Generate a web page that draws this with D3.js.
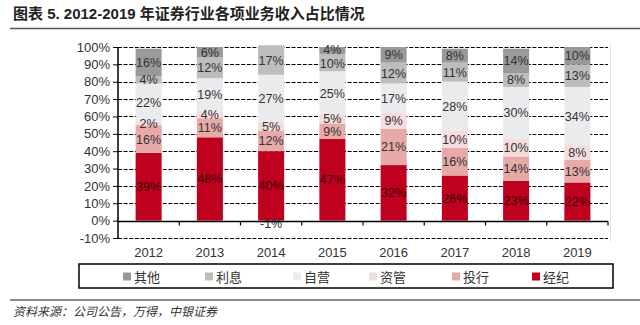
<!DOCTYPE html>
<html><head><meta charset="utf-8">
<script src="https://cdn.jsdelivr.net/npm/d3@7"></script>
<style>
html,body{margin:0;padding:0;background:#fff;}
svg{display:block;}
</style></head>
<body>
<svg id="c" width="640" height="325"></svg>
<script>
const years = ["2012","2013","2014","2015","2016","2017","2018","2019"];
const seriesNames = ["经纪","投行","资管","自营","利息","其他"]; // bottom to top
const brokerage = [39,48,40,47,32,26,23,22];
const investBank = [16,11,12,9,21,16,14,13];
const assetMgmt = [2,4,5,5,9,10,10,8];
const proprietary = [22,19,27,25,17,28,30,34];
const interest = [4,12,17,10,12,11,8,13];
const other = [16,6,-1,4,9,8,14,10];
const yTicks = [-10,0,10,20,30,40,50,60,70,80,90,100];
const colors = {"经纪":"#c0001f","投行":"#e8a9a9","资管":"#f6dddd","自营":"#ebebee","利息":"#bdbdbd","其他":"#999999"};
const legendOrder = ["其他","利息","自营","资管","投行","经纪"];

const seriesVals = {"经纪":brokerage,"投行":investBank,"资管":assetMgmt,"自营":proprietary,"利息":interest,"其他":other};
const table = years.map((y,i)=>{const o={year:y}; seriesNames.forEach(k=>o[k]=seriesVals[k][i]); return o;});

const svg = d3.select("#c");
const latin = "'Liberation Sans', Arial, 'Noto Sans CJK SC', sans-serif";
const cjk = "'Noto Sans CJK SC', sans-serif";

// title
svg.append("text").attr("x",13).attr("y",19).attr("font-family",latin).attr("font-weight","bold")
  .attr("font-size",15).attr("fill","#222").text("图表 5. 2012-2019 年证券行业各项业务收入占比情况");
svg.append("line").attr("x1",10).attr("x2",640).attr("y1",28.5).attr("y2",28.5).attr("stroke","#555").attr("stroke-width",1.5);

const x = d3.scaleBand().domain(years).range([118,608]).paddingInner(0.575).paddingOuter(0.2875);
const y = d3.scaleLinear().domain([-10,100]).range([238,47]);

// faint plot frame
svg.append("line").attr("x1",610.5).attr("x2",610.5).attr("y1",42).attr("y2",242).attr("stroke","#e6e6e6");

// gridlines
svg.append("g").selectAll("line").data(yTicks.filter(t=>t!==0)).join("line")
  .attr("x1",118).attr("x2",608).attr("y1",d=>Math.round(y(d))+0.5).attr("y2",d=>Math.round(y(d))+0.5)
  .attr("stroke","#000").attr("stroke-width",1.2).attr("stroke-dasharray","4,1.6");

// bars
const stack = d3.stack().keys(seriesNames).offset(d3.stackOffsetDiverging);
const layers = stack(table);
const gBars = svg.append("g");
layers.forEach(layer=>{
  gBars.selectAll(null).data(layer).join("rect")
    .attr("x",d=>x(d.data.year)).attr("width",x.bandwidth())
    .attr("y",d=>y(Math.max(d[0],d[1]))).attr("height",d=>Math.abs(y(d[0])-y(d[1])))
    .attr("fill",colors[layer.key]);
});

// labels with simple de-overlap per bar
const labels = [];
years.forEach((yr,i)=>{
  const col = layers.map(layer=>({key:layer.key, v:layer[i].data[layer.key],
    cy:y((layer[i][0]+layer[i][1])/2), neg: layer[i].data[layer.key] < 0}));
  const pos = col.filter(c=>!c.neg).sort((a,b)=>b.cy-a.cy); // bottom to top
  const gap = 13.5;
  // push upward-adjacent labels apart symmetrically
  for (let iter=0; iter<20; iter++){
    for (let j=1;j<pos.length;j++){
      const d = pos[j-1].cy - pos[j].cy;
      if (d < gap){ const s=(gap-d)/2; pos[j-1].cy += s; pos[j].cy -= s; }
    }
  }
  col.forEach(c=>labels.push({year:yr, key:c.key, v:c.v, cy:c.neg ? c.cy+2 : c.cy}));
});
svg.append("g").selectAll("text").data(labels).join("text")
  .attr("x",d=>x(d.year)+x.bandwidth()/2).attr("y",d=>d.cy)
  .attr("dy","0.36em").attr("text-anchor","middle")
  .attr("font-family",latin).attr("font-size",12.5)
  .attr("fill",d=>d.key==="经纪"?"#3a0008":"#333")
  .text(d=>d.v+"%");

// y axis
const yAxis = d3.axisLeft(y).tickValues(yTicks).tickFormat(d=>d+"%").tickSize(5).tickPadding(3);
const gy = svg.append("g").attr("transform","translate(118,0)").call(yAxis);
gy.select(".domain").attr("stroke","#000").attr("stroke-width",1.5).attr("d","M0,"+y(100)+"V"+y(-10));
gy.selectAll(".tick line").attr("stroke","#000");
gy.selectAll("text").attr("font-family",latin).attr("font-size",13).attr("fill","#333");

// x axis at 0
const gx = svg.append("g").attr("transform","translate(0,"+(Math.round(y(0))+0.5)+")");
gx.append("line").attr("x1",118).attr("x2",608).attr("stroke","#000").attr("stroke-width",1.5);
const bounds = years.map(yr=>x(yr)-x.step()*x.paddingInner()/2).concat([608]);
gx.selectAll(null).data(bounds.slice(1)).join("line")
  .attr("x1",d=>d).attr("x2",d=>d).attr("y1",0).attr("y2",4).attr("stroke","#000").attr("stroke-width",1.2);
svg.append("g").selectAll("text").data(years).join("text")
  .attr("x",d=>x(d)+x.bandwidth()/2).attr("y",257).attr("text-anchor","middle")
  .attr("font-family",latin).attr("font-size",13).attr("fill","#333").text(d=>d);

// legend
svg.append("rect").attr("x",79).attr("y",264).attr("width",534).attr("height",24)
  .attr("fill","#fff").attr("stroke","#000").attr("stroke-width",1.5);
const legX = [127,209,297,373,456,536];
const gl = svg.append("g");
legendOrder.forEach((k,i)=>{
  gl.append("rect").attr("x",legX[i]-4).attr("y",272.5).attr("width",8).attr("height",8).attr("fill",colors[k]);
  gl.append("text").attr("x",legX[i]+7).attr("y",281.5).attr("font-family",cjk).attr("font-size",13)
    .attr("fill","#333").text(k);
});

// footer
svg.append("line").attr("x1",10).attr("x2",640).attr("y1",300).attr("y2",300).attr("stroke","#666").attr("stroke-width",1.5);
svg.append("text").attr("x",13).attr("y",316).attr("font-family",cjk).attr("font-style","italic")
  .attr("font-size",12).attr("fill","#333").text("资料来源：公司公告，万得，中银证券");
</script>
</body></html>
